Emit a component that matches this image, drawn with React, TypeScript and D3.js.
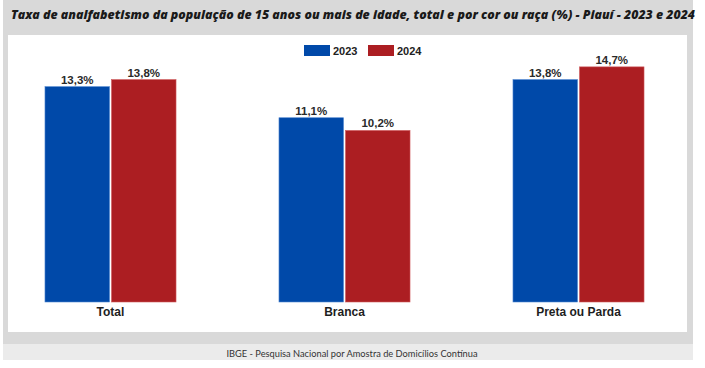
// Taxa de analfabetismo - Piauí 2023 x 2024
// grouped bar chart drawn with d3 scales in JSX

import React from 'react';
import * as d3 from 'd3';

const CATEGORIES = ['Total', 'Branca', 'Preta ou Parda'];
const YEARS = ['2023', '2024'];
const VALUES_2023 = [13.3, 11.1, 13.8];
const VALUES_2024 = [13.8, 10.2, 14.7];

const COLORS: Record<string, string> = { '2023': '#0049a9', '2024': '#ac1e22' };
const STROKES: Record<string, string> = { '2023': '#4f86d0', '2024': '#cf5a5d' };

const TITLE = 'Taxa de analfabetismo da população de 15 anos ou mais de idade, total e por cor ou raça (%) - Piauí - 2023 e 2024';
const SOURCE = 'IBGE - Pesquisa Nacional por Amostra de Domicílios Contínua';

const fmt = (v: number) => v.toFixed(1).replace('.', ',') + '%';

export default function App() {
  const W = 705;
  const H = 368;
  const baseline = 302;

  const rows = CATEGORIES.map((c, i) => ({
    cat: c,
    vals: [
      { year: '2023', value: VALUES_2023[i] },
      { year: '2024', value: VALUES_2024[i] },
    ],
  }));

  const x = d3.scaleBand<string>()
    .domain(CATEGORIES)
    .range([-6.5, 695.5])
    .paddingInner(0.44)
    .paddingOuter(0.22);

  const xi = d3.scaleBand<string>()
    .domain(YEARS)
    .range([0, x.bandwidth()])
    .paddingInner(0.03);

  // the original axis doesn't start at zero (hidden), so bars start below it
  const yMin = -1.94;
  const y = d3.scaleLinear()
    .domain([yMin, 16])
    .range([baseline, baseline - (16 - yMin) * 14.13]);

  const labelFont = '"Liberation Sans", Arial, sans-serif';

  return (
    <svg width={W} height={H} style={{ position: 'absolute', left: 0, top: 0 }}>
      <rect x={0} y={0} width={W} height={H} fill="#ffffff" />
      {/* outer grey frame */}
      <rect x={3} y={0} width={690} height={344} fill="#d9d9d9" />
      {/* source strip */}
      <rect x={3} y={344} width={690} height={16} fill="#ebebeb" />
      {/* white plot panel */}
      <rect x={8} y={35} width={679} height={297} fill="#ffffff" />

      <text
        x={353}
        y={19}
        textAnchor="middle"
        textLength={684}
        lengthAdjust="spacingAndGlyphs"
        fill="#1a1a1a"
        style={{ fontFamily: '"Open Sans", sans-serif', fontSize: '12px', fontWeight: 800, fontStyle: 'italic' }}
      >
        {TITLE}
      </text>

      {/* legend */}
      {YEARS.map((yr, i) => (
        <g key={yr} transform={`translate(${304 + i * 64}, 45)`}>
          <rect width={26} height={11} fill={COLORS[yr]} />
          <text
            x={29}
            y={10}
            fill="#222"
            style={{ fontFamily: labelFont, fontSize: '11px', fontWeight: 700 }}
          >
            {yr}
          </text>
        </g>
      ))}

      {rows.map((r) => (
        <g key={r.cat} transform={`translate(${x(r.cat)}, 0)`}>
          {r.vals.map((d) => (
            <g key={d.year}>
              <rect
                x={xi(d.year)}
                y={y(d.value)}
                width={xi.bandwidth()}
                height={baseline - y(d.value)}
                fill={COLORS[d.year]}
                stroke={STROKES[d.year]}
                strokeWidth={0.6}
              />
              <text
                x={(xi(d.year) as number) + xi.bandwidth() / 2}
                y={y(d.value) - 3}
                textAnchor="middle"
                fill="#2a2a2a"
                style={{ fontFamily: labelFont, fontSize: '11.5px', fontWeight: 700 }}
              >
                {fmt(d.value)}
              </text>
            </g>
          ))}
          <text
            x={x.bandwidth() / 2}
            y={316}
            textAnchor="middle"
            fill="#1e1e1e"
            style={{ fontFamily: labelFont, fontSize: '12px', fontWeight: 700 }}
          >
            {r.cat}
          </text>
        </g>
      ))}

      <text
        x={352}
        y={357}
        textAnchor="middle"
        textLength={251}
        lengthAdjust="spacingAndGlyphs"
        fill="#333"
        style={{ fontFamily: 'Lato, sans-serif', fontSize: '9.5px' }}
      >
        {SOURCE}
      </text>
    </svg>
  );
}
